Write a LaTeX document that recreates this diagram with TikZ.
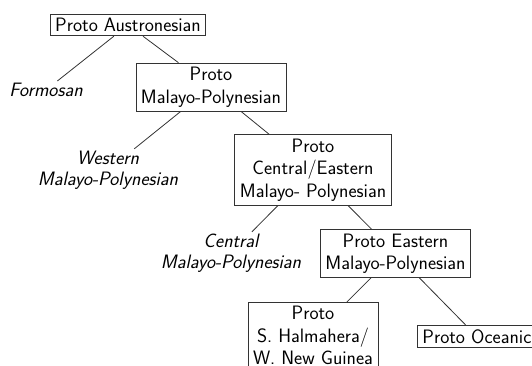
\documentclass[tikz,border=0pt]{standalone}
\usepackage{tikz}

\begin{document}
\begin{tikzpicture}[x=1pt, y=-1pt,
		proto/.style={draw=black!80, line width=0.8pt, align=center, inner xsep=5pt, inner ysep=4pt, font=\sffamily\fontsize{19.4}{22.5}\selectfont},
		branch/.style={align=center, inner sep=2pt, font=\sffamily\slshape\fontsize{19.4}{20.5}\selectfont},
		twig/.style={draw=black!80, line width=0.8pt}]
			%%%%% START %%%%%
			
			\useasboundingbox (0, 0) rectangle (532, 365);
			\clip (0, 0) rectangle (532, 365);
			
			\node[proto] (pa) at (128, 25) {Proto Austronesian};
			\node[branch] (fo) at (46, 90) {Formosan};
			\node[proto] (pmp) at (211, 87) {Proto\\Malayo-Polynesian};
			\node[branch] (wmp) at (108, 170) {Western\\Malayo-Polynesian};
			\node[proto] (pcemp) at (313, 170) {Proto\\Central/Eastern\\Malayo- Polynesian};
			\node[branch] (cmp) at (231, 253) {Central\\Malayo-Polynesian};
			\node[proto] (pemp) at (395.5, 253.5) {Proto Eastern\\Malayo-Polynesian};
			\node[proto, anchor=north] (pshwng) at (313, 302) {Proto\\S. Halmahera/\\W. New Guinea};
			\node[proto, anchor=north west] (poc) at (417, 325) {Proto Oceanic};
			
			\draw[twig] (pa) -- (fo);
			\draw[twig] (pa) -- (pmp);
			\draw[twig] (pmp) -- (wmp);
			\draw[twig] (pmp) -- (pcemp);
			\draw[twig] (pcemp) -- (cmp);
			\draw[twig] (pcemp) -- (pemp);
			\draw[twig] (pemp) -- (pshwng);
			\draw[twig] (pemp) -- (poc);
			
			%%%%% END %%%%%
\end{tikzpicture}
\end{document}
